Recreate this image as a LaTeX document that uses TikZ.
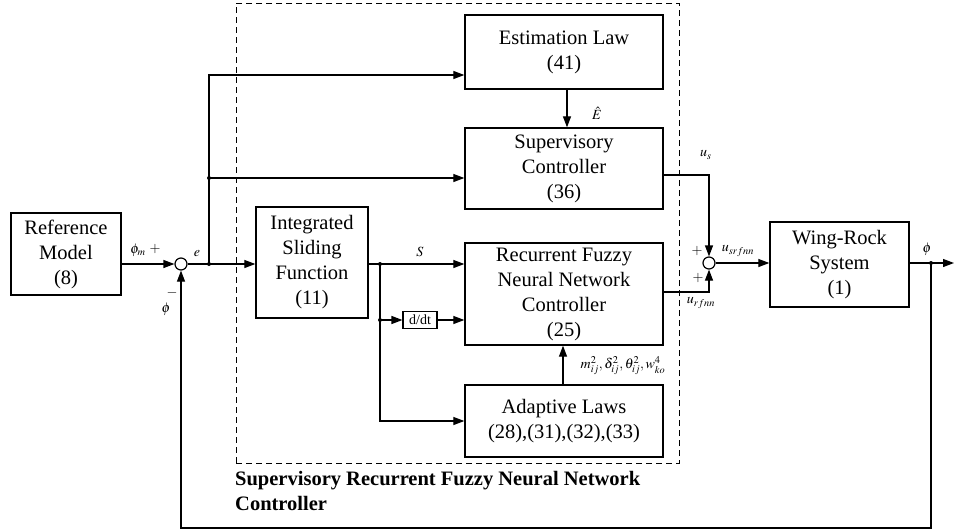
\documentclass[tikz,border=0pt]{standalone}
\usepackage{mathptmx}
\usepackage{fontspec}
\setmainfont{Liberation Serif}
\usetikzlibrary{arrows.meta,calc}
\begin{document}
\begin{tikzpicture}[x=1pt,y=-1pt,
 blk/.style={draw,line width=1.3pt,inner sep=0pt,align=center,font=\fontsize{20.5}{25}\selectfont},
 con/.style={line width=1.2pt},
 arr/.style={con,-{Triangle[length=11pt,width=8pt]}},
 sumc/.style={circle,draw,line width=1.2pt,minimum size=12pt,inner sep=0pt},
 dotc/.style={circle,fill,inner sep=0pt,minimum size=4pt},
 lbl/.style={font=\fontsize{14}{16}\selectfont,inner sep=0pt},
 ttl/.style={font=\fontsize{20.5}{25}\selectfont\bfseries,inner sep=0pt,anchor=base west}]
\useasboundingbox (0,0) rectangle (954,531);

% frame
\node[draw,dashed,line width=0.9pt,dash pattern=on 6pt off 4pt,minimum width=443pt,minimum height=460pt,inner sep=0pt] (frame) at (457.5,233) {};

% blocks
\node[blk,minimum width=110pt,minimum height=82pt] (ref) at (66,254) {Reference\\Model\\(8)};
\node[blk,minimum width=112pt,minimum height=111pt] (isf) at (312,262.5) {Integrated\\Sliding\\Function\\(11)};
\node[blk,minimum width=198pt,minimum height=74pt] (est) at (564,52) {Estimation Law\\(41)};
\node[blk,minimum width=198pt,minimum height=81pt] (sup) at (564,168.5) {Supervisory\\Controller\\(36)};
\node[blk,minimum width=198pt,minimum height=102pt] (rfnn) at (564,294) {Recurrent Fuzzy\\Neural Network\\Controller\\(25)};
\node[blk,minimum width=198pt,minimum height=72pt] (adp) at (564,421) {Adaptive Laws\\(28),(31),(32),(33)};
\node[blk,minimum width=139pt,minimum height=85pt] (wr) at (839.5,264.5) {Wing-Rock\\System\\(1)};
\node[blk,minimum width=34pt,minimum height=17pt,line width=1.1pt,font=\fontsize{14}{16}\selectfont] (ddt) at (420,320) {d/dt};
\node[sumc] (sum1) at (181,264) {};
\node[sumc] (sum2) at (709,263) {};

% junction coordinates
\coordinate (eJ) at (209,264);
\coordinate (sJ) at (209,178);
\coordinate (SJ) at (380,264);
\coordinate (dJ) at (380,320);
\coordinate (fJ) at (931,263);
\coordinate (fB) at (931,528);
\coordinate (out) at (954,263);

% connectors
\draw[arr] (ref.east |- sum1) -- (sum1.west);
\draw[arr] (sum1.east) -- (sum1 -| isf.west);
\draw[arr] (eJ) |- (est.west |- 0,75);
\draw[arr] (sJ) -- (sJ -| sup.west);
\draw[arr] (sup.east |- 0,175) -| (sum2.north);
\draw[arr] (rfnn.east |- 0,292) -| (sum2.south);
\draw[arr] (sum2.east) -- (sum2 -| wr.west);
\draw[arr] (wr.east |- sum2) -- (out);
\draw[arr] (fJ) -- (fB) -| (sum1.south);
\draw[arr] (isf.east |- SJ) -- (SJ -| rfnn.west);
\draw[arr] (SJ) |- (adp.west);
\draw[arr] (dJ) -- (ddt.west);
\draw[arr] (ddt.east) -- (ddt -| rfnn.west);
\draw[arr] (est.south -| 567,0) -- (sup.north -| 567,0);
\draw[arr] (adp.north -| 563,0) -- (rfnn.south -| 563,0);

\foreach \p in {eJ,sJ,SJ,dJ,fJ} \node[dotc] at (\p) {};

% labels
\node[lbl] at (138,250) {$\phi_m$};
\node[lbl] at (155,249) {$+$};
\node[lbl] at (172,293) {$-$};
\node[lbl] at (166,309) {$\phi$};
\node[lbl] at (197,254) {$e$};
\node[lbl] at (420,252) {$S$};
\node[lbl] at (597,113) {$\hat{E}$};
\node[lbl] at (706,155) {$u_s$};
\node[lbl] at (697,251) {$+$};
\node[lbl] at (698,278) {$+$};
\node[lbl] at (738,251) {$u_{srfnn}$};
\node[lbl] at (701,303) {$u_{rfnn}$};
\node[lbl] at (927,249) {$\phi$};
\node[lbl] at (623,366) {$m_{ij}^2,\delta_{ij}^2,\theta_{ij}^2,w_{ko}^4$};

\node[ttl] (t1) at (235,485) {Supervisory Recurrent Fuzzy Neural Network};
\node[ttl] (t2) at (235,510) {Controller};
\end{tikzpicture}
\end{document}
